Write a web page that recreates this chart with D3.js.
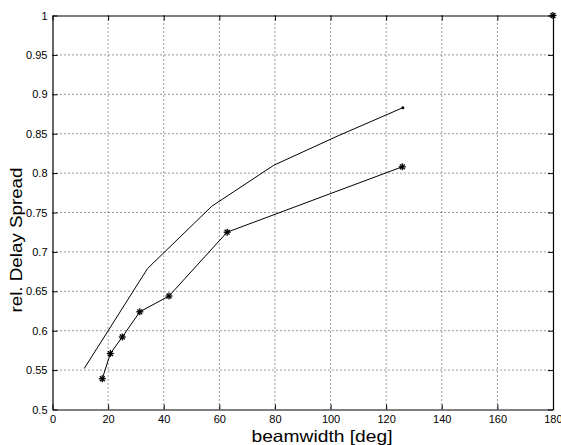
<!DOCTYPE html>
<html><head><meta charset="utf-8">
<script src="https://cdn.jsdelivr.net/npm/d3@7"></script>
<style>body{margin:0;background:#fff}svg{display:block}text{font-family:"Liberation Sans",Arial,sans-serif}</style>
</head><body>
<script>
const upperX = [11.4, 34.2, 57.3, 79.6, 102.5, 126.0];
const upperY = [0.552, 0.679, 0.758, 0.810, 0.847, 0.883];
const lowerX = [17.9, 20.8, 25.1, 31.4, 41.9, 62.8, 125.8];
const lowerY = [0.539, 0.571, 0.592, 0.624, 0.644, 0.725, 0.808];
const refX = [180];
const refY = [1.0];
const xTicks = [0, 20, 40, 60, 80, 100, 120, 140, 160, 180];
const yTicks = [0.5, 0.55, 0.6, 0.65, 0.7, 0.75, 0.8, 0.85, 0.9, 0.95, 1];

const W = 561, H = 445;
const L = 52.5, R = 553, T = 15.5, B = 409.5;
const svg = d3.select("body").append("svg").attr("width", W).attr("height", H);
const x = d3.scaleLinear().domain([0, 180]).range([L, R]);
const y = d3.scaleLinear().domain([0.5, 1]).range([B, T]);

// grid
const g = svg.append("g");
xTicks.slice(1, -1).forEach(t => g.append("line").attr("x1", x(t)).attr("x2", x(t)).attr("y1", T).attr("y2", B)
  .attr("stroke", "#000").attr("stroke-width", 0.8).attr("stroke-dasharray", "1,3"));
yTicks.slice(1, -1).forEach(t => g.append("line").attr("x1", L).attr("x2", R).attr("y1", y(t)).attr("y2", y(t))
  .attr("stroke", "#000").attr("stroke-width", 0.8).attr("stroke-dasharray", "1,3"));

// axes
const fmtY = d => d3.format("")(+d.toFixed(2));
const ax = svg.append("g").attr("transform", `translate(0,${B})`)
  .call(d3.axisBottom(x).tickValues(xTicks).tickSizeInner(-5).tickSizeOuter(0).tickPadding(6));
const ay = svg.append("g").attr("transform", `translate(${L},0)`)
  .call(d3.axisLeft(y).tickValues(yTicks).tickFormat(fmtY).tickSizeInner(-5).tickSizeOuter(0).tickPadding(5));
const at = svg.append("g").attr("transform", `translate(0,${T})`)
  .call(d3.axisTop(x).tickValues(xTicks).tickSizeInner(-5).tickSizeOuter(0).tickFormat(""));
const ar = svg.append("g").attr("transform", `translate(${R},0)`)
  .call(d3.axisRight(y).tickValues(yTicks).tickSizeInner(-5).tickSizeOuter(0).tickFormat(""));
[ax, ay, at, ar].forEach(a => {
  a.selectAll("text").attr("font-size", 11).attr("fill", "#000").style("font-family", "Liberation Sans, Arial, sans-serif");
  a.select(".domain").attr("stroke", "#000").attr("stroke-width", 1.2);
  a.selectAll(".tick line").attr("stroke", "#000");
});
ax.selectAll(".tick text").filter(d => d === 180).attr("text-anchor", "end").attr("dx", "9");

// lines
const line = d3.line().x(d => x(d[0])).y(d => y(d[1]));
const up = upperX.map((v, i) => [v, upperY[i]]);
const lo = lowerX.map((v, i) => [v, lowerY[i]]);
svg.append("path").attr("d", line(up)).attr("fill", "none").attr("stroke", "#000").attr("stroke-width", 1);
svg.append("path").attr("d", line(lo)).attr("fill", "none").attr("stroke", "#000").attr("stroke-width", 1);
svg.append("circle").attr("cx", x(upperX[upperX.length - 1])).attr("cy", y(upperY[upperY.length - 1])).attr("r", 1.5).attr("fill", "#000");

function drawStar(px, py) {
  const s = 3.5;
  const gg = svg.append("g").attr("transform", `translate(${px},${py})`).attr("stroke", "#000").attr("stroke-width", 1.3);
  [[-s, 0, s, 0], [0, -s, 0, s], [-s*0.7, -s*0.7, s*0.7, s*0.7], [-s*0.7, s*0.7, s*0.7, -s*0.7]].forEach(c =>
    gg.append("line").attr("x1", c[0]).attr("y1", c[1]).attr("x2", c[2]).attr("y2", c[3]));
}
lo.forEach(d => drawStar(x(d[0]), y(d[1])));
refX.forEach((v, i) => drawStar(x(v), y(refY[i])));

// labels
svg.append("text").attr("x", 322).attr("y", 441.5).attr("text-anchor", "middle").attr("font-size", 16.5)
  .attr("textLength", 141).attr("lengthAdjust", "spacingAndGlyphs").text("beamwidth [deg]");
svg.append("text").attr("transform", `translate(22,240) rotate(-90)`).attr("text-anchor", "middle").attr("font-size", 16.5)
  .attr("textLength", 145).attr("lengthAdjust", "spacingAndGlyphs").text("rel. Delay Spread");
</script>
</body></html>
